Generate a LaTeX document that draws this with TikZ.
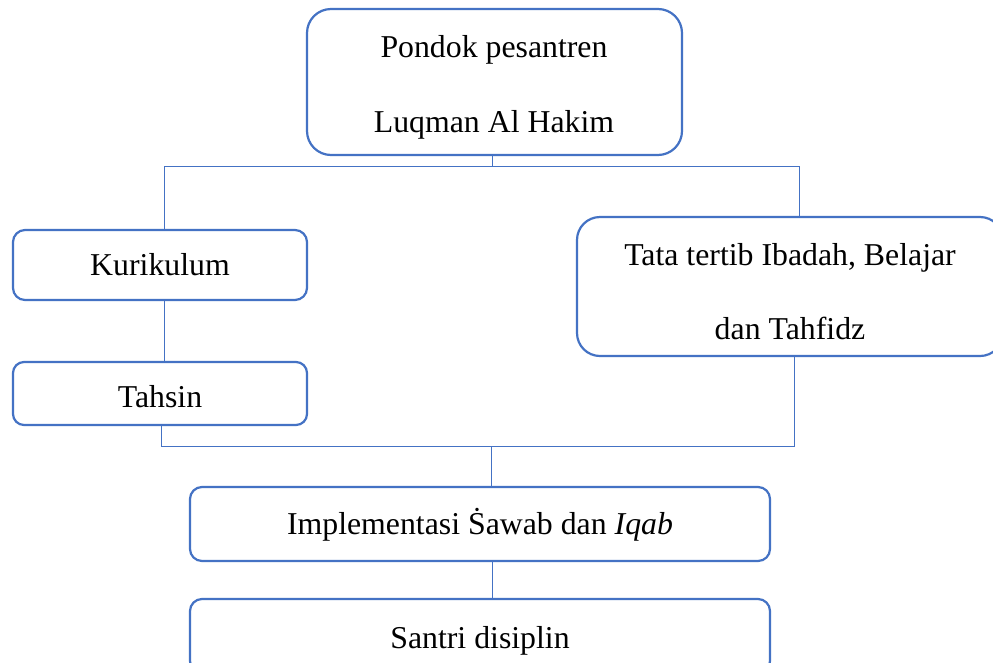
\documentclass[tikz,border=0pt]{standalone}
\usepackage{fontspec}
\setmainfont{Liberation Serif}
\definecolor{wblue}{HTML}{4472C4}
\begin{document}
\begin{tikzpicture}[x=1pt,y=-1pt,
  box/.style={draw=wblue,line width=2.2pt,inner sep=0pt,rectangle,fill=white},
  txt/.style={inner sep=0pt,anchor=base,font=\fontsize{31.8}{38}\selectfont},
  link/.style={draw=wblue,line width=1pt}]
\useasboundingbox (0,0) rectangle (993,662);
\clip (0,0) rectangle (993,662);
\fill[white] (0,0) rectangle (993,662);
% boxes
\node[box,rounded corners=24pt,minimum width=375pt,minimum height=146pt] (top) at (494.5,82) {};
\node[box,rounded corners=12pt,minimum width=294pt,minimum height=70pt] (kur) at (160,265) {};
\node[box,rounded corners=11pt,minimum width=294pt,minimum height=63pt] (tah) at (160,393.5) {};
\node[box,rounded corners=23pt,minimum width=426pt,minimum height=139pt] (tata) at (790,286.5) {};
\node[box,rounded corners=12pt,minimum width=580pt,minimum height=74pt] (imp) at (480,524) {};
\node[box,rounded corners=12pt,minimum width=580pt,minimum height=74pt] (san) at (480,636) {};
% texts
\node[txt] (top1) at (494,57) {Pondok pesantren};
\node[txt] (top2) at (494,132) {Luqman Al Hakim};
\node[txt] (kurt) at (160,275) {Kurikulum};
\node[txt] (taht) at (160,407) {Tahsin};
\node[txt] (tata1) at (790,265) {Tata tertib Ibadah, Belajar};
\node[txt] (tata2) at (790,339) {dan Tahfidz};
\node[txt] (impt) at (480,534) {Implementasi Ṡawab dan \textit{Iqab}};
\node[txt] (sant) at (480,648) {Santri disiplin};
% junctions
\coordinate (jt) at (492,166);
\coordinate (jl) at (164,166);
\coordinate (jr) at (799,166);
\coordinate (bl) at (161,446);
\coordinate (br) at (794,446);
\coordinate (bm) at (491,446);
% connectors
\draw[link] (top.south -| jt) -- (jt);
\draw[link] (jl) -- (jr);
\draw[link] (jl) -- (kur.north -| jl);
\draw[link] (jr) -- (tata.north -| jr);
\draw[link] (kur.south -| jl) -- (tah.north -| jl);
\draw[link] (tah.south -| bl) -- (bl) -- (br) -- (tata.south -| br);
\draw[link] (bm) -- (imp.north -| bm);
\draw[link] (imp.south -| jt) -- (san.north -| jt);
\end{tikzpicture}
\end{document}
